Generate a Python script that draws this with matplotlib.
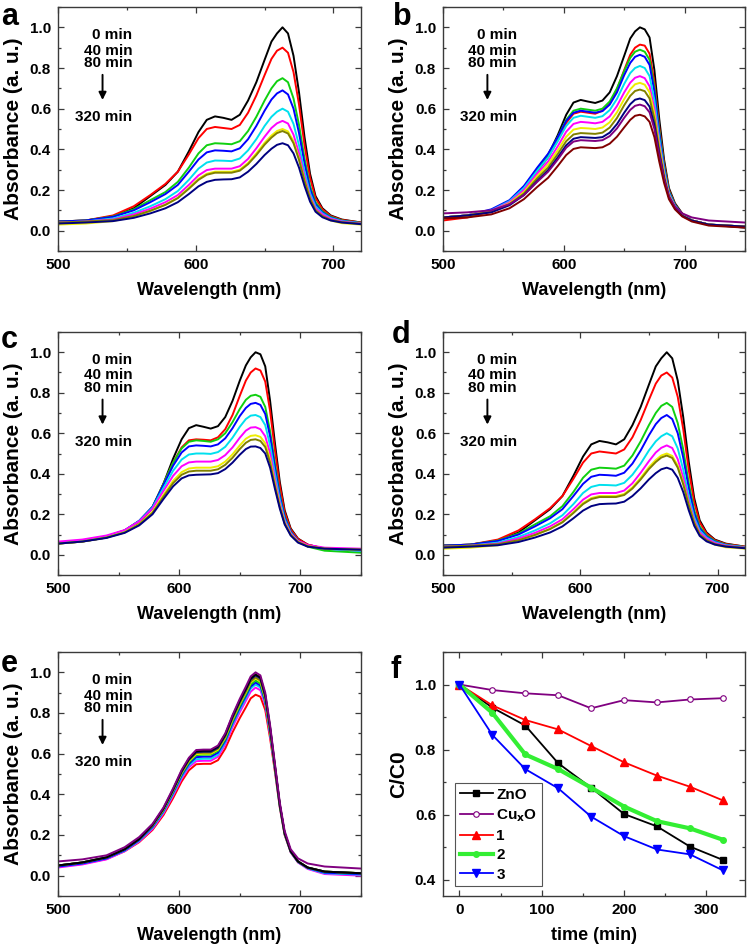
import matplotlib
matplotlib.use('Agg')
import matplotlib.pyplot as plt
from matplotlib.ticker import MultipleLocator

plt.rcParams['font.family'] = ['Liberation Sans', 'DejaVu Sans']
plt.rcParams['font.weight'] = 'bold'
plt.rcParams['axes.labelweight'] = 'bold'
plt.rcParams['mathtext.default'] = 'bf'

# ---------------- data ----------------
wl = [500, 520, 540, 555, 567, 578, 587, 595, 602, 608, 614, 620, 626, 632, 638, 644,
      650, 655, 659, 663, 667, 671, 675, 679, 683, 687, 692, 698, 706, 720, 750]

# Origin-style colour sequence
c_black, c_red, c_green, c_blue = '#000000', '#FF0000', '#10D010', '#0000FF'
c_cyan, c_mag, c_yel, c_olive = '#00E0EE', '#FF00FF', '#EEEE00', '#808000'
c_navy, c_purple, c_wine = '#000080', '#800080', '#800000'

colors_a = [c_black, c_red, c_green, c_blue, c_cyan, c_mag, c_yel, c_olive, c_navy]
spec_a = [
    [0.045, 0.05, 0.07, 0.11, 0.17, 0.225, 0.29, 0.39, 0.485, 0.545, 0.562, 0.555, 0.545, 0.57, 0.64, 0.73, 0.84, 0.93, 0.97, 1.0, 0.97, 0.86, 0.68, 0.46, 0.28, 0.17, 0.11, 0.075, 0.055, 0.04, 0.035],
    [0.045, 0.05, 0.075, 0.12, 0.175, 0.23, 0.29, 0.375, 0.455, 0.50, 0.51, 0.505, 0.50, 0.52, 0.58, 0.665, 0.765, 0.845, 0.885, 0.90, 0.875, 0.78, 0.62, 0.42, 0.26, 0.16, 0.105, 0.072, 0.053, 0.04, 0.035],
    [0.045, 0.05, 0.07, 0.105, 0.15, 0.19, 0.24, 0.31, 0.38, 0.42, 0.43, 0.428, 0.425, 0.44, 0.49, 0.56, 0.64, 0.70, 0.735, 0.75, 0.73, 0.65, 0.52, 0.355, 0.22, 0.14, 0.095, 0.068, 0.05, 0.038, 0.033],
    [0.045, 0.05, 0.068, 0.10, 0.14, 0.18, 0.225, 0.29, 0.35, 0.385, 0.395, 0.393, 0.39, 0.405, 0.45, 0.515, 0.59, 0.645, 0.675, 0.69, 0.67, 0.60, 0.48, 0.33, 0.205, 0.13, 0.09, 0.065, 0.048, 0.037, 0.032],
    [0.04, 0.045, 0.06, 0.088, 0.12, 0.155, 0.195, 0.25, 0.305, 0.335, 0.345, 0.344, 0.342, 0.355, 0.395, 0.45, 0.515, 0.56, 0.585, 0.60, 0.585, 0.525, 0.42, 0.29, 0.185, 0.12, 0.085, 0.062, 0.047, 0.037, 0.032],
    [0.04, 0.045, 0.055, 0.08, 0.108, 0.14, 0.175, 0.225, 0.272, 0.298, 0.305, 0.305, 0.305, 0.317, 0.353, 0.405, 0.462, 0.505, 0.528, 0.54, 0.527, 0.472, 0.38, 0.265, 0.17, 0.11, 0.08, 0.058, 0.045, 0.035, 0.03],
    [0.03, 0.035, 0.047, 0.07, 0.097, 0.128, 0.162, 0.21, 0.255, 0.28, 0.29, 0.29, 0.29, 0.30, 0.333, 0.38, 0.432, 0.468, 0.49, 0.50, 0.488, 0.44, 0.355, 0.25, 0.16, 0.10, 0.07, 0.05, 0.037, 0.03, 0.025],
    [0.04, 0.045, 0.052, 0.072, 0.098, 0.127, 0.16, 0.206, 0.25, 0.275, 0.285, 0.285, 0.285, 0.295, 0.327, 0.372, 0.423, 0.458, 0.48, 0.49, 0.478, 0.43, 0.348, 0.245, 0.158, 0.10, 0.072, 0.053, 0.042, 0.034, 0.03],
    [0.035, 0.04, 0.047, 0.063, 0.085, 0.11, 0.14, 0.18, 0.218, 0.24, 0.25, 0.252, 0.253, 0.262, 0.29, 0.328, 0.372, 0.403, 0.422, 0.43, 0.42, 0.38, 0.31, 0.22, 0.143, 0.093, 0.066, 0.05, 0.04, 0.032, 0.028],
]

colors_b = [c_black, c_red, c_green, c_blue, c_cyan, c_mag, c_yel, c_olive, c_navy, c_purple, c_wine]
spec_b = [
    [0.065, 0.075, 0.10, 0.14, 0.21, 0.30, 0.37, 0.47, 0.57, 0.63, 0.643, 0.635, 0.628, 0.64, 0.68, 0.76, 0.86, 0.945, 0.98, 1.0, 0.99, 0.95, 0.79, 0.55, 0.35, 0.21, 0.135, 0.085, 0.05, 0.03, 0.015],
    [0.05, 0.065, 0.095, 0.14, 0.205, 0.29, 0.36, 0.445, 0.53, 0.575, 0.585, 0.58, 0.575, 0.59, 0.625, 0.695, 0.79, 0.865, 0.90, 0.915, 0.91, 0.87, 0.73, 0.51, 0.33, 0.20, 0.13, 0.082, 0.05, 0.03, 0.02],
    [0.06, 0.07, 0.10, 0.145, 0.215, 0.305, 0.375, 0.46, 0.545, 0.59, 0.60, 0.595, 0.59, 0.60, 0.635, 0.70, 0.785, 0.85, 0.88, 0.89, 0.88, 0.84, 0.705, 0.495, 0.32, 0.195, 0.128, 0.08, 0.05, 0.03, 0.02],
    [0.065, 0.075, 0.105, 0.15, 0.22, 0.31, 0.378, 0.46, 0.54, 0.58, 0.59, 0.585, 0.58, 0.588, 0.62, 0.68, 0.765, 0.825, 0.855, 0.865, 0.855, 0.815, 0.685, 0.48, 0.31, 0.19, 0.125, 0.08, 0.05, 0.03, 0.02],
    [0.065, 0.075, 0.10, 0.145, 0.21, 0.295, 0.36, 0.44, 0.515, 0.555, 0.565, 0.56, 0.555, 0.563, 0.593, 0.648, 0.722, 0.775, 0.80, 0.81, 0.80, 0.76, 0.64, 0.455, 0.30, 0.185, 0.122, 0.078, 0.05, 0.03, 0.02],
    [0.065, 0.075, 0.098, 0.14, 0.20, 0.28, 0.34, 0.415, 0.487, 0.525, 0.535, 0.532, 0.528, 0.535, 0.562, 0.613, 0.68, 0.728, 0.752, 0.76, 0.75, 0.71, 0.60, 0.43, 0.285, 0.178, 0.118, 0.076, 0.05, 0.03, 0.02],
    [0.065, 0.075, 0.095, 0.135, 0.19, 0.268, 0.325, 0.395, 0.462, 0.497, 0.505, 0.503, 0.50, 0.507, 0.533, 0.582, 0.647, 0.695, 0.72, 0.727, 0.718, 0.68, 0.575, 0.415, 0.277, 0.174, 0.116, 0.075, 0.05, 0.03, 0.02],
    [0.065, 0.075, 0.093, 0.13, 0.183, 0.257, 0.31, 0.377, 0.44, 0.473, 0.48, 0.478, 0.476, 0.482, 0.507, 0.554, 0.617, 0.663, 0.687, 0.694, 0.686, 0.65, 0.55, 0.40, 0.268, 0.17, 0.113, 0.074, 0.05, 0.03, 0.02],
    [0.065, 0.075, 0.09, 0.125, 0.175, 0.245, 0.297, 0.36, 0.42, 0.452, 0.46, 0.458, 0.456, 0.46, 0.482, 0.524, 0.58, 0.622, 0.644, 0.65, 0.642, 0.61, 0.52, 0.38, 0.258, 0.165, 0.11, 0.073, 0.05, 0.03, 0.02],
    [0.085, 0.09, 0.10, 0.13, 0.175, 0.24, 0.29, 0.35, 0.408, 0.438, 0.445, 0.443, 0.441, 0.445, 0.465, 0.503, 0.555, 0.594, 0.614, 0.62, 0.612, 0.582, 0.50, 0.37, 0.255, 0.168, 0.118, 0.085, 0.065, 0.05, 0.04],
    [0.06, 0.065, 0.08, 0.11, 0.155, 0.215, 0.26, 0.318, 0.372, 0.402, 0.41, 0.408, 0.406, 0.41, 0.428, 0.462, 0.508, 0.545, 0.565, 0.57, 0.562, 0.535, 0.46, 0.34, 0.235, 0.155, 0.105, 0.07, 0.045, 0.025, 0.015],
]

colors_c = [c_black, c_red, c_green, c_blue, c_cyan, c_mag, c_yel, c_olive, c_navy]
spec_c = [
    [0.055, 0.065, 0.085, 0.115, 0.16, 0.23, 0.35, 0.475, 0.57, 0.625, 0.64, 0.632, 0.623, 0.635, 0.68, 0.76, 0.86, 0.935, 0.975, 1.0, 0.99, 0.93, 0.76, 0.55, 0.36, 0.22, 0.13, 0.08, 0.05, 0.03, 0.025],
    [0.06, 0.07, 0.09, 0.12, 0.165, 0.235, 0.35, 0.455, 0.53, 0.565, 0.57, 0.568, 0.565, 0.58, 0.62, 0.69, 0.785, 0.86, 0.90, 0.92, 0.91, 0.855, 0.71, 0.515, 0.34, 0.21, 0.125, 0.078, 0.05, 0.03, 0.025],
    [0.06, 0.07, 0.09, 0.12, 0.167, 0.237, 0.35, 0.455, 0.525, 0.558, 0.565, 0.562, 0.558, 0.57, 0.60, 0.655, 0.72, 0.765, 0.785, 0.79, 0.78, 0.73, 0.61, 0.45, 0.30, 0.19, 0.115, 0.07, 0.04, 0.02, 0.01],
    [0.06, 0.07, 0.09, 0.12, 0.168, 0.237, 0.345, 0.44, 0.505, 0.535, 0.54, 0.538, 0.535, 0.545, 0.575, 0.625, 0.685, 0.725, 0.745, 0.75, 0.74, 0.695, 0.585, 0.43, 0.29, 0.185, 0.113, 0.07, 0.045, 0.03, 0.02],
    [0.06, 0.07, 0.09, 0.12, 0.166, 0.232, 0.33, 0.415, 0.47, 0.495, 0.50, 0.50, 0.498, 0.507, 0.533, 0.578, 0.632, 0.67, 0.687, 0.69, 0.68, 0.64, 0.54, 0.40, 0.272, 0.175, 0.108, 0.068, 0.045, 0.03, 0.02],
    [0.065, 0.075, 0.095, 0.122, 0.165, 0.228, 0.315, 0.39, 0.437, 0.456, 0.46, 0.46, 0.46, 0.468, 0.492, 0.53, 0.578, 0.613, 0.628, 0.63, 0.62, 0.585, 0.50, 0.37, 0.255, 0.165, 0.105, 0.068, 0.048, 0.035, 0.03],
    [0.055, 0.065, 0.085, 0.112, 0.152, 0.212, 0.295, 0.365, 0.408, 0.426, 0.43, 0.43, 0.43, 0.437, 0.46, 0.496, 0.54, 0.573, 0.587, 0.59, 0.582, 0.55, 0.47, 0.35, 0.243, 0.158, 0.10, 0.064, 0.043, 0.03, 0.025],
    [0.055, 0.065, 0.085, 0.11, 0.149, 0.207, 0.287, 0.354, 0.395, 0.411, 0.415, 0.415, 0.415, 0.422, 0.444, 0.479, 0.522, 0.553, 0.567, 0.57, 0.562, 0.532, 0.455, 0.34, 0.237, 0.155, 0.098, 0.063, 0.042, 0.03, 0.025],
    [0.055, 0.065, 0.083, 0.108, 0.145, 0.2, 0.275, 0.338, 0.377, 0.392, 0.395, 0.396, 0.397, 0.403, 0.423, 0.455, 0.494, 0.522, 0.534, 0.535, 0.527, 0.50, 0.43, 0.325, 0.228, 0.15, 0.095, 0.06, 0.04, 0.03, 0.025],
]

colors_e = [c_red, c_mag, c_cyan, c_blue, c_green, c_yel, c_olive, c_navy, c_black, c_purple]
spec_e = [
    [0.045, 0.058, 0.082, 0.12, 0.165, 0.225, 0.298, 0.382, 0.463, 0.518, 0.548, 0.55, 0.55, 0.568, 0.625, 0.705, 0.775, 0.828, 0.872, 0.89, 0.88, 0.815, 0.675, 0.51, 0.335, 0.20, 0.115, 0.066, 0.036, 0.012, 0.008],
    [0.04, 0.055, 0.08, 0.12, 0.168, 0.23, 0.306, 0.394, 0.477, 0.533, 0.563, 0.565, 0.565, 0.585, 0.645, 0.731, 0.804, 0.86, 0.905, 0.925, 0.912, 0.84, 0.692, 0.52, 0.34, 0.203, 0.115, 0.065, 0.033, 0.008, 0.0],
    [0.045, 0.06, 0.085, 0.123, 0.172, 0.236, 0.313, 0.402, 0.486, 0.542, 0.573, 0.575, 0.575, 0.595, 0.656, 0.743, 0.817, 0.874, 0.92, 0.94, 0.925, 0.85, 0.70, 0.524, 0.342, 0.204, 0.117, 0.067, 0.036, 0.012, 0.005],
    [0.045, 0.06, 0.085, 0.125, 0.175, 0.24, 0.318, 0.408, 0.493, 0.55, 0.583, 0.585, 0.585, 0.605, 0.664, 0.751, 0.826, 0.883, 0.93, 0.95, 0.935, 0.857, 0.706, 0.527, 0.343, 0.205, 0.118, 0.068, 0.038, 0.015, 0.008],
    [0.05, 0.065, 0.09, 0.13, 0.18, 0.245, 0.322, 0.414, 0.50, 0.557, 0.593, 0.595, 0.595, 0.614, 0.672, 0.759, 0.835, 0.892, 0.94, 0.96, 0.945, 0.865, 0.712, 0.53, 0.345, 0.206, 0.12, 0.07, 0.04, 0.02, 0.012],
    [0.05, 0.065, 0.09, 0.13, 0.18, 0.247, 0.325, 0.418, 0.505, 0.563, 0.598, 0.60, 0.60, 0.62, 0.679, 0.767, 0.844, 0.901, 0.95, 0.97, 0.955, 0.873, 0.717, 0.533, 0.346, 0.207, 0.12, 0.07, 0.04, 0.02, 0.012],
    [0.05, 0.065, 0.09, 0.13, 0.18, 0.248, 0.327, 0.42, 0.508, 0.567, 0.603, 0.605, 0.605, 0.625, 0.684, 0.772, 0.849, 0.906, 0.955, 0.975, 0.96, 0.877, 0.72, 0.535, 0.347, 0.208, 0.12, 0.07, 0.04, 0.02, 0.012],
    [0.05, 0.065, 0.09, 0.13, 0.18, 0.25, 0.33, 0.423, 0.512, 0.572, 0.608, 0.61, 0.61, 0.63, 0.69, 0.78, 0.857, 0.915, 0.965, 0.985, 0.97, 0.885, 0.727, 0.538, 0.35, 0.21, 0.12, 0.07, 0.04, 0.02, 0.012],
    [0.05, 0.065, 0.09, 0.13, 0.18, 0.25, 0.33, 0.425, 0.515, 0.575, 0.612, 0.615, 0.615, 0.635, 0.695, 0.785, 0.862, 0.92, 0.97, 0.99, 0.975, 0.89, 0.73, 0.54, 0.35, 0.21, 0.12, 0.07, 0.04, 0.02, 0.012],
    [0.07, 0.08, 0.10, 0.14, 0.19, 0.255, 0.335, 0.43, 0.52, 0.58, 0.618, 0.62, 0.62, 0.64, 0.70, 0.79, 0.87, 0.93, 0.98, 1.0, 0.985, 0.90, 0.74, 0.55, 0.36, 0.22, 0.13, 0.085, 0.06, 0.045, 0.035],
]

time_min = [0, 40, 80, 120, 160, 200, 240, 280, 320]
zno = [1.0, 0.929, 0.874, 0.758, 0.683, 0.602, 0.564, 0.502, 0.461]
cuxo = [1.0, 0.983, 0.973, 0.967, 0.927, 0.952, 0.945, 0.954, 0.958]
s1 = [1.0, 0.936, 0.891, 0.862, 0.811, 0.761, 0.720, 0.686, 0.644]
s2 = [1.0, 0.913, 0.785, 0.740, 0.683, 0.625, 0.580, 0.558, 0.523]
s3 = [1.0, 0.845, 0.740, 0.681, 0.594, 0.534, 0.493, 0.478, 0.429]

anno_lines = ['0 min', '40 min', '80 min']
anno_last = '320 min'

# ---------------- layout ----------------
W, H = 747, 946
fig = plt.figure(figsize=(W / 100, H / 100), dpi=100)


def rect(l, r, t, b):
    return [l / W, 1 - b / H, (r - l) / W, (b - t) / H]


SPINE = '#3a3a3a'


def style(ax):
    for s in ax.spines.values():
        s.set_color(SPINE)
        s.set_linewidth(1.0)
    ax.tick_params(which='both', direction='in', top=True, right=True,
                   colors=SPINE, labelcolor='black', labelsize=11, width=0.9)
    ax.tick_params(which='major', length=4, pad=5)
    ax.tick_params(which='minor', length=2.5)
    for lab in ax.get_xticklabels() + ax.get_yticklabels():
        lab.set_fontweight('bold')


def spectra_panel(rc, xmax, specs, cols, letter, lpos):
    ax = fig.add_axes(rect(*rc))
    for y, c in zip(specs, cols):
        ax.plot(wl, y, color=c, lw=1.4, solid_joinstyle='round')
    ax.set_xlim(500, xmax)
    ax.set_ylim(-0.1, 1.1)
    ax.set_xticks([500, 600, 700])
    ax.xaxis.set_minor_locator(MultipleLocator(50))
    ax.set_yticks([0.0, 0.2, 0.4, 0.6, 0.8, 1.0])
    ax.yaxis.set_minor_locator(MultipleLocator(0.1))
    ax.set_xlabel('Wavelength (nm)', fontsize=13, fontweight='bold', labelpad=7)
    ax.set_ylabel('Absorbance (a. u.)', fontsize=15, fontweight='bold', labelpad=5)
    style(ax)
    ys = [0.885, 0.821, 0.769]
    for t, yy in zip(anno_lines, ys):
        ax.text(0.245, yy, t, transform=ax.transAxes, ha='right', va='center',
                fontsize=11, fontweight='bold')
    ax.text(0.245, 0.549, anno_last, transform=ax.transAxes, ha='right', va='center',
            fontsize=11, fontweight='bold')
    ax.annotate('', xy=(0.147, 0.619), xytext=(0.147, 0.722), xycoords='axes fraction',
                arrowprops=dict(arrowstyle='-|>', color='black', lw=1.4, mutation_scale=11,
                                shrinkA=0, shrinkB=0))
    fig.text(lpos[0] / W, 1 - lpos[1] / H, letter, fontsize=22, fontweight='bold',
             ha='left', va='baseline')
    return ax


spectra_panel((58, 361, 7, 251), 720, spec_a, colors_a, 'a', (1, 25))
spectra_panel((443, 745, 7, 251), 750, spec_b, colors_b, 'b', (393, 25))
spectra_panel((58, 361, 332, 575), 750, spec_c, colors_c, 'c', (1, 348))
spectra_panel((443, 745, 332, 575), 720, spec_a, colors_a, 'd', (392, 343))
spectra_panel((58, 361, 652, 896), 750, spec_e, colors_e, 'e', (1, 672))

# ---------------- panel f ----------------
ax = fig.add_axes(rect(443, 745, 652, 896))
ax.plot(time_min, zno, color='black', lw=1.3, marker='s', ms=5, label='ZnO')
ax.plot(time_min, cuxo, color=c_purple, lw=1.3, marker='o', ms=4, mfc='white',
        mec=c_purple, mew=0.8, label='Cu$_\\mathbf{x}$O')
ax.plot(time_min, s1, color='#FF0000', lw=1.3, marker='^', ms=6, label='1')
ax.plot(time_min, s2, color='#33EE33', lw=3.0, marker='o', ms=4, label='2')
ax.plot(time_min, s3, color='#0000FF', lw=1.3, marker='v', ms=6, label='3')
ax.set_xlim(-20, 347)
ax.set_ylim(0.35, 1.1)
ax.set_xticks([0, 100, 200, 300])
ax.xaxis.set_minor_locator(MultipleLocator(50))
ax.set_yticks([0.4, 0.6, 0.8, 1.0])
ax.yaxis.set_minor_locator(MultipleLocator(0.1))
ax.set_xlabel('time (min)', fontsize=13, fontweight='bold', labelpad=7)
ax.set_ylabel('C/C0', fontsize=15, fontweight='bold', labelpad=5)
style(ax)
leg = ax.legend(loc='lower left', bbox_to_anchor=(0.04, 0.04), borderaxespad=0,
                fancybox=False, framealpha=1, edgecolor='#555555',
                prop={'weight': 'bold', 'size': 11}, handlelength=2.2,
                handletextpad=0.2, labelspacing=0.35, borderpad=0.3)
leg.get_frame().set_linewidth(0.8)
fig.text(391 / W, 1 - 678 / H, 'f', fontsize=22, fontweight='bold', ha='left', va='baseline')

fig.savefig('out.png', dpi=100)
